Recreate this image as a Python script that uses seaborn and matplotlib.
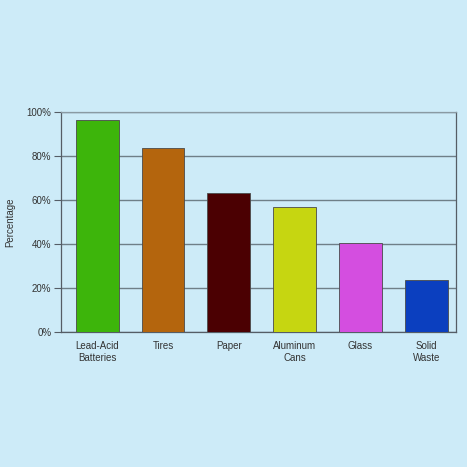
import numpy as np
import pandas as pd
import matplotlib
matplotlib.use("Agg")
import matplotlib.pyplot as plt
import seaborn as sns
from matplotlib.ticker import PercentFormatter

categories = ["Lead-Acid\nBatteries", "Tires", "Paper", "Aluminum\nCans", "Glass", "Solid\nWaste"]
values = [96.5, 83.5, 63, 57, 40.5, 23.5]
colors = ["#3db50b", "#b4650d", "#4b0002", "#c6d611", "#d44ee0", "#0b3fbf"]
yticks = [0, 20, 40, 60, 80, 100]

bg = "#cdebf8"

sns.set_style("white")
plt.rcParams["font.family"] = ["Liberation Sans", "DejaVu Sans"]

df = pd.DataFrame({"material": categories, "pct": values})

fig = plt.figure(figsize=(4.67, 4.67), dpi=100, facecolor=bg)
ax = fig.add_axes([61 / 467, 1 - 332 / 467, 395 / 467, 220 / 467])
ax.set_facecolor(bg)

sns.barplot(data=df, x="material", y="pct", hue="material", palette=colors,
            legend=False, width=0.65, edgecolor="#4a4a4a", linewidth=0.6,
            saturation=1, ax=ax, zorder=3)

ax.set_ylim(0, 100)
ax.set_xlim(-0.55, 5.45)
ax.set_yticks(yticks)
ax.yaxis.set_major_formatter(PercentFormatter(decimals=0))
ax.grid(axis="y", color="#6f7f88", linewidth=1.0, zorder=0)
ax.set_axisbelow(True)

for side in ["left", "bottom", "right", "top"]:
    ax.spines[side].set_visible(True)
    ax.spines[side].set_color("#555d66")
    ax.spines[side].set_linewidth(0.9)
ax.spines["top"].set_color("#8a9aa3")

ax.tick_params(axis="y", left=True, length=5, width=0.8, color="#555d66",
               labelsize=7, labelcolor="#333333", pad=2)
ax.tick_params(axis="x", bottom=False, labelsize=7, labelcolor="#333333", pad=3)

ax.set_xlabel("")
ax.set_ylabel("Percentage", fontsize=7, color="#333333")
ax.yaxis.set_label_coords(-0.116, 0.5)

fig.savefig("out.png", dpi=100, facecolor=bg)
